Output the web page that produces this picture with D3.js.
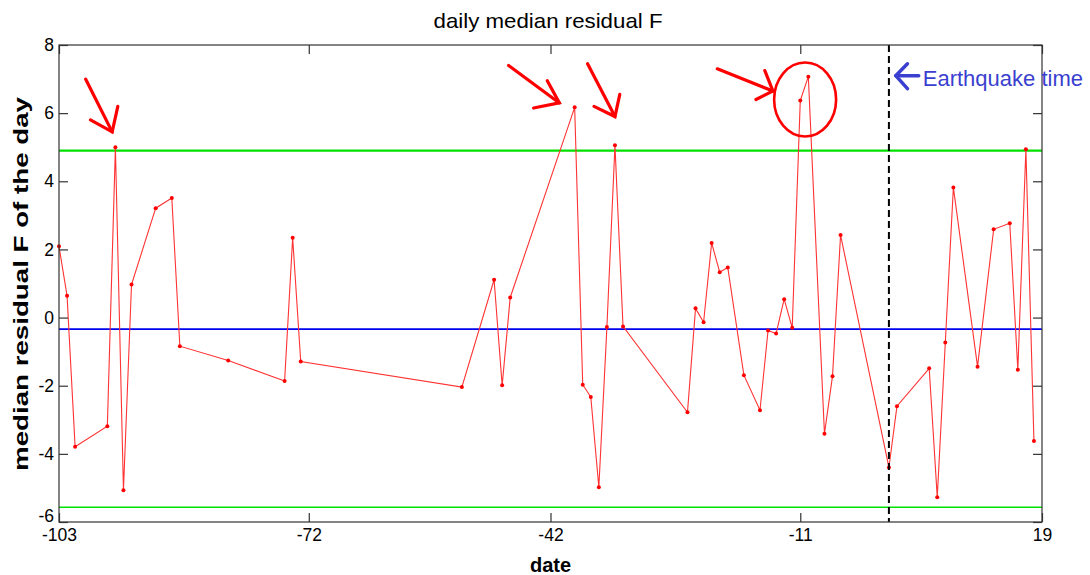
<!DOCTYPE html>
<html><head><meta charset="utf-8">
<script src="https://cdn.jsdelivr.net/npm/d3@7"></script>
<style>body{margin:0;background:#fff}svg{display:block}</style>
</head><body>
<svg id="c" width="1090" height="575"></svg>
<script>
const days = [-103,-102,-101,-97,-96,-95,-94,-91,-89,-88,-82,-75,-74,-73,-53,-49,-48,-47,-39,-38,-37,-36,-35,-34,-33,-25,-24,-23,-22,-21,-20,-18,-16,-15,-14,-13,-12,-11,-10,-8,-7,-6,0,1,5,6,7,8,11,13,15,16,17,18];
const values = [2.09,0.64,-3.79,-3.19,5.0,-5.07,0.97,3.21,3.51,-0.84,-1.26,-1.86,2.34,-1.29,-2.04,1.11,-1.99,0.59,6.17,-1.97,-2.33,-4.98,-0.28,5.06,-0.26,-2.78,0.27,-0.14,2.19,1.33,1.47,-1.69,-2.72,-0.38,-0.47,0.54,-0.30,6.37,7.07,-3.41,-1.72,2.42,-4.4,-2.6,-1.49,-5.27,-0.73,3.82,-1.44,2.59,2.77,-1.53,4.94,-3.62];
const xTicks = [-103,-72,-42,-11,19];
const yTicks = [8,6,4,2,0,-2,-4,-6];
const upperLimit = 4.9, lowerLimit = -5.57, medianLine = -0.34, quakeDay = 0;

const svg = d3.select("#c");
const L=59, R=1042, T=45, B=522;
const x = d3.scaleLinear().domain([-103,19]).range([L,R]);
const y = d3.scaleLinear().domain([-6,8]).range([B,T]);
const font = "Liberation Sans, Arial, sans-serif";

// reference lines
svg.append("line").attr("x1",L).attr("x2",R).attr("y1",y(upperLimit)).attr("y2",y(upperLimit)).attr("stroke","#00e000").attr("stroke-width",2.2);
svg.append("line").attr("x1",L).attr("x2",R).attr("y1",y(lowerLimit)).attr("y2",y(lowerLimit)).attr("stroke","#00e000").attr("stroke-width",1.5);
svg.append("line").attr("x1",L).attr("x2",R).attr("y1",y(medianLine)).attr("y2",y(medianLine)).attr("stroke","#0000ee").attr("stroke-width",1.8);

// data line
const pts = days.map((d,i)=>[d,values[i]]);
svg.append("path").datum(pts)
  .attr("d", d3.line().x(d=>x(d[0])).y(d=>y(d[1])))
  .attr("fill","none").attr("stroke","#ff3333").attr("stroke-width",1.1);
svg.selectAll("circle.pt").data(pts).enter().append("circle")
  .attr("cx",d=>x(d[0])).attr("cy",d=>y(d[1])).attr("r",2).attr("fill","#ff0000");

// earthquake line
svg.append("line").attr("x1",x(quakeDay)).attr("x2",x(quakeDay)).attr("y1",T).attr("y2",B)
  .attr("stroke","#000").attr("stroke-width",2).attr("stroke-dasharray","7,4");

// axes box
svg.append("rect").attr("x",L).attr("y",T).attr("width",R-L).attr("height",B-T).attr("fill","none").attr("stroke","#333").attr("stroke-width",1.2);
const fmt = d => String(d);
const xb = svg.append("g").attr("transform",`translate(0,${B})`).call(d3.axisBottom(x).tickValues(xTicks).tickSizeInner(-9).tickSizeOuter(0).tickPadding(7).tickFormat(fmt));
const xt = svg.append("g").attr("transform",`translate(0,${T})`).call(d3.axisTop(x).tickValues(xTicks).tickSizeInner(-9).tickSizeOuter(0).tickFormat(""));
const yl = svg.append("g").attr("transform",`translate(${L},0)`).call(d3.axisLeft(y).tickValues(yTicks).tickSizeInner(-9).tickSizeOuter(0).tickPadding(5).tickFormat(fmt));
const yr = svg.append("g").attr("transform",`translate(${R},0)`).call(d3.axisRight(y).tickValues(yTicks).tickSizeInner(-9).tickSizeOuter(0).tickFormat(""));
[xb,xt,yl,yr].forEach(g=>{
  g.select(".domain").remove();
  g.selectAll("line").attr("stroke","#333").attr("stroke-width",1.2);
  g.selectAll("text").attr("font-family",font).attr("font-size",17.5).attr("fill","#000");
});
// the lowest y label sits just above the first x label, as in the reference
yl.selectAll(".tick text").filter(d=>d===-6).attr("dy","-0.05em");

// titles
svg.append("text").attr("x",548).attr("y",28).attr("text-anchor","middle").attr("font-family",font).attr("font-size",21)
  .attr("textLength",229).attr("lengthAdjust","spacingAndGlyphs").text("daily median residual F");
svg.append("text").attr("x",(L+R)/2).attr("y",572).attr("text-anchor","middle").attr("font-family",font).attr("font-size",20).attr("font-weight","bold").text("date");
svg.append("text").attr("transform",`translate(28,284) rotate(-90)`).attr("text-anchor","middle").attr("font-family",font).attr("font-size",21).attr("font-weight","bold")
  .attr("textLength",374).attr("lengthAdjust","spacingAndGlyphs").text("median residual F of the day");

// annotations (in data coordinates)
const arrows = [
  {from:[-99.7,7.0], to:[-96.4,5.45], h1:[-99.1,5.8], h2:[-95.7,6.2]},
  {from:[-47.2,7.4], to:[-40.9,6.3], h1:[-44.1,6.15], h2:[-42.4,6.95]},
  {from:[-37.4,7.45], to:[-34.0,5.9], h1:[-36.6,6.2], h2:[-33.4,6.55]},
  {from:[-21.3,7.3], to:[-14.4,6.65], h1:[-16.5,6.4], h2:[-15.4,7.25]}
];
const ag = svg.append("g").attr("stroke","#ff0000").attr("stroke-width",3.2).attr("fill","none").attr("stroke-linecap","round");
arrows.forEach(a=>{
  ag.append("line").attr("x1",x(a.from[0])).attr("y1",y(a.from[1])).attr("x2",x(a.to[0])).attr("y2",y(a.to[1]));
  ag.append("polyline").attr("points",[a.h1,a.to,a.h2].map(p=>x(p[0])+","+y(p[1])).join(" "));
});
svg.append("ellipse").attr("cx",x(-10.4)).attr("cy",y(6.4)).attr("rx",31).attr("ry",37)
  .attr("fill","none").attr("stroke","#ff0000").attr("stroke-width",2.6);

// earthquake label
const qb = "#3a3fd0";
svg.append("line").attr("x1",x(3.7)).attr("x2",x(0.85)).attr("y1",y(7.1)).attr("y2",y(7.1)).attr("stroke",qb).attr("stroke-width",3.5).attr("stroke-linecap","round");
svg.append("polyline").attr("points",[[2.3,7.45],[0.85,7.1],[2.3,6.72]].map(p=>x(p[0])+","+y(p[1])).join(" "))
  .attr("fill","none").attr("stroke",qb).attr("stroke-width",3.5).attr("stroke-linecap","round").attr("stroke-linejoin","round");
svg.append("text").attr("x",x(4.2)).attr("y",86).attr("font-family",font).attr("font-size",22).attr("fill",qb).text("Earthquake time");
</script>
</body></html>
